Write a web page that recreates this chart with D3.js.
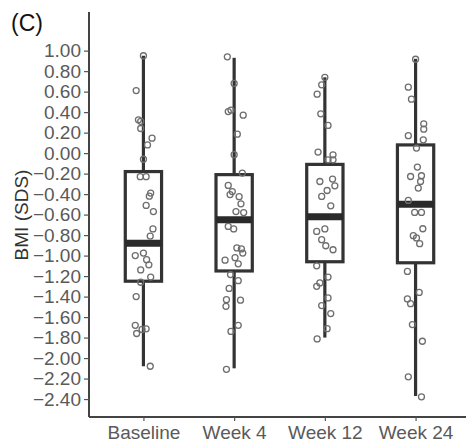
<!DOCTYPE html>
<html>
<head>
<meta charset="utf-8">
<script src="https://cdnjs.cloudflare.com/ajax/libs/d3/7.8.5/d3.min.js"></script>
<style>
  body { margin: 0; background: #fff; }
  svg text { font-family: "Liberation Sans", Arial, sans-serif; }
</style>
</head>
<body>
<div id="chart"></div>
<script>
(function() {
    "use strict";

    var categories = ["Baseline", "Week 4", "Week 12", "Week 24"];

    // box statistics
    var whiskerHigh = [0.95, 0.93, 0.74, 0.92];
    var upperQ = [-0.18, -0.21, -0.11, 0.08];
    var medians = [-0.88, -0.65, -0.62, -0.50];
    var lowerQ = [-1.25, -1.15, -1.06, -1.07];
    var whiskerLow = [-2.08, -2.10, -1.80, -2.37];

    // individual values, and their jitter as a share of the category step
    var baselineVals = [0.95, 0.61, 0.325, 0.31, 0.24, 0.146, 0.08, -0.06, -0.23, -0.23,
        -0.39, -0.42, -0.51, -0.57, -0.74, -0.81, -0.975, -1.00, -1.04, -1.09,
        -1.14, -1.21, -1.26, -1.40, -1.68, -1.715, -1.72, -1.76, -2.08];
    var baselineJit = [0, -0.08, -0.055, -0.03, -0.03, 0.095, 0.045, 0, -0.035, 0.03,
        0.08, 0.065, 0.03, 0.11, 0.105, 0.075, 0, -0.09, 0.035, 0.06,
        -0.03, 0.08, -0.03, -0.08, -0.09, 0.03, -0.015, -0.075, 0.075];

    var week4Vals = [0.94, 0.68, 0.42, 0.405, 0.37, 0.185, -0.015, -0.195, -0.315, -0.375,
        -0.405, -0.425, -0.495, -0.57, -0.58, -0.715, -0.74, -0.925, -0.935, -0.975,
        -1.02, -1.045, -1.08, -1.185, -1.245, -1.32, -1.43, -1.495, -1.435, -1.68,
        -1.74, -2.11];
    var week4Jit = [-0.075, 0, -0.035, -0.065, 0.1, 0.035, 0, 0.09, -0.065, -0.02,
        -0.045, 0.055, 0.075, 0.02, 0.105, -0.065, -0.005, 0.03, 0.08, 0.095,
        0.01, -0.1, 0.045, -0.04, 0.045, -0.055, -0.085, -0.09, 0.07, 0.045,
        -0.035, -0.085];

    var week12Vals = [0.74, 0.666, 0.575, 0.383, 0.27, 0.01, -0.065, -0.017, -0.065, -0.277,
        -0.253, -0.319, -0.365, -0.423, -0.514, -0.764, -0.74, -0.845, -0.904, -0.943,
        -1.10, -1.21, -1.267, -1.30, -1.413, -1.488, -1.566, -1.713, -1.813];
    var week12Jit = [0, -0.035, -0.085, -0.045, 0.035, -0.075, 0.035, 0.09, 0.09, -0.055,
        0.085, 0.11, 0.025, -0.035, 0.065, -0.09, 0, -0.035, 0.01, 0.09,
        -0.09, 0.035, -0.055, -0.09, 0.035, -0.035, 0.065, 0.025, -0.085];

    var week24Vals = [0.916, 0.643, 0.526, 0.286, 0.234, 0.17, 0.13, 0.049, -0.136, -0.228,
        -0.221, -0.277, -0.341, -0.462, -0.579, -0.579, -0.738, -0.806, -0.828, -0.884,
        -1.154, -1.359, -1.423, -1.469, -1.673, -1.836, -2.183, -2.378];
    var week24Jit = [0, -0.08, -0.045, 0.09, 0.09, -0.08, 0.085, 0.01, 0.02, -0.055,
        0.065, 0.055, 0.03, -0.08, -0.01, 0.065, 0.08, -0.025, 0.01, 0.045,
        -0.09, 0.04, -0.09, -0.055, -0.035, 0.075, -0.08, 0.065];

    var yTicks = [1.00, 0.80, 0.60, 0.40, 0.20, 0.00, -0.20, -0.40, -0.60, -0.80, -1.00,
        -1.20, -1.40, -1.60, -1.80, -2.00, -2.20, -2.40];

    var allVals = [baselineVals, week4Vals, week12Vals, week24Vals];
    var allJit = [baselineJit, week4Jit, week12Jit, week24Jit];

    var w = 466;
    var h = 445;
    var left = 89, top = 12, bottom = 417, right = 470;

    var x = d3.scalePoint()
        .domain(categories)
        .range([left, right])
        .padding(0.6);
    var y = d3.scaleLinear()
        .domain([-2.575, 1.377])
        .range([bottom, top]);

    var boxW = x.step() * 0.4;
    var ink = "#333";

    var svg = d3.select("#chart").append("svg")
        .attr("width", w)
        .attr("height", h);

    // panel letter
    svg.append("text")
        .attr("x", 11)
        .attr("y", 31)
        .attr("font-size", 23)
        .attr("fill", "#111")
        .text("(C)");

    // y axis
    var yAxis = svg.append("g")
        .attr("transform", "translate(" + left + ",0)")
        .call(d3.axisLeft(y).tickValues(yTicks).tickFormat(d3.format(".2f")).tickSize(5).tickPadding(3));
    yAxis.select(".domain").attr("d", "M0," + top + "V" + bottom);

    // x axis
    var xAxis = svg.append("g")
        .attr("transform", "translate(0," + bottom + ")")
        .call(d3.axisBottom(x).tickSize(4).tickPadding(5));
    xAxis.select(".domain").attr("d", "M" + left + ",0H" + right);

    svg.selectAll(".domain")
        .attr("stroke", "#444")
        .attr("stroke-width", 2);
    svg.selectAll(".tick line")
        .attr("stroke", "#555")
        .attr("stroke-width", 1.2);
    svg.selectAll(".tick text")
        .attr("font-family", "'Liberation Sans', Arial, sans-serif")
        .attr("font-size", 19)
        .attr("fill", "#5a5a5a");

    // y title
    svg.append("text")
        .attr("transform", "translate(28,215) rotate(-90)")
        .attr("text-anchor", "middle")
        .attr("font-size", 19)
        .attr("fill", "#333")
        .text("BMI (SDS)");

    var boxes = svg.append("g").selectAll("g")
        .data(categories)
        .enter()
        .append("g");

    // whiskers
    boxes.append("line")
        .attr("x1", function(d) { return x(d); })
        .attr("x2", function(d) { return x(d); })
        .attr("y1", function(d, i) { return y(upperQ[i]); })
        .attr("y2", function(d, i) { return y(whiskerHigh[i]); })
        .attr("stroke", ink)
        .attr("stroke-width", 3.2);
    boxes.append("line")
        .attr("x1", function(d) { return x(d); })
        .attr("x2", function(d) { return x(d); })
        .attr("y1", function(d, i) { return y(lowerQ[i]); })
        .attr("y2", function(d, i) { return y(whiskerLow[i]); })
        .attr("stroke", ink)
        .attr("stroke-width", 3.2);

    // boxes
    boxes.append("rect")
        .attr("x", function(d) { return x(d) - boxW / 2; })
        .attr("y", function(d, i) { return y(upperQ[i]); })
        .attr("width", boxW)
        .attr("height", function(d, i) { return y(lowerQ[i]) - y(upperQ[i]); })
        .attr("fill", "#fff")
        .attr("stroke", ink)
        .attr("stroke-width", 3.2);

    // medians
    boxes.append("line")
        .attr("x1", function(d) { return x(d) - boxW / 2; })
        .attr("x2", function(d) { return x(d) + boxW / 2; })
        .attr("y1", function(d, i) { return y(medians[i]); })
        .attr("y2", function(d, i) { return y(medians[i]); })
        .attr("stroke", "#2a2a2a")
        .attr("stroke-width", 7);

    // jittered points
    categories.forEach(function(cat, ci) {
        svg.append("g").selectAll("circle")
            .data(allVals[ci])
            .enter()
            .append("circle")
            .attr("cx", function(d, i) { return x(cat) + allJit[ci][i] * x.step(); })
            .attr("cy", function(d) { return y(d); })
            .attr("r", 3)
            .attr("fill", "none")
            .attr("stroke", "#6e6e6e")
            .attr("stroke-width", 1.3);
    });
})();
</script>
</body>
</html>
